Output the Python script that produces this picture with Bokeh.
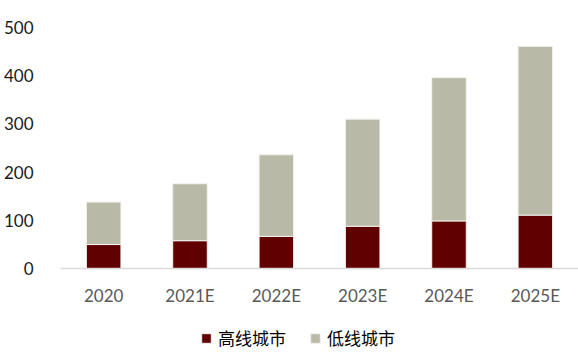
from bokeh.plotting import figure
from bokeh.models import FactorRange, Range1d, Legend, LegendItem, FixedTicker, ColumnDataSource
from bokeh.embed import file_html
from bokeh.resources import INLINE

categories = ["2020", "2021E", "2022E", "2023E", "2024E", "2025E"]
high_tier = [50, 58, 67, 88, 99, 111]
low_tier = [88, 118, 169, 222, 297, 350]
series_names = ["高线城市", "低线城市"]
colors = ["#600000", "#B9B9A7"]
y_ticks = [0, 100, 200, 300, 400, 500]

source = ColumnDataSource(dict(cat=categories, high=high_tier, low=low_tier))

# frame reaches down to the figure bottom; the x axis is pinned at y = 0
p = figure(width=578, height=354, x_range=FactorRange(*categories),
           y_range=Range1d(-178, 500), output_backend="svg", toolbar_location=None,
           min_border_left=60, min_border_right=0, min_border_top=27, min_border_bottom=0)

rs = p.vbar_stack(["high", "low"], x="cat", width=0.4, source=source,
                  color=colors, line_color="#F2F2EE", line_width=1)

p.xgrid.visible = False
p.ygrid.visible = False
p.outline_line_color = None
p.background_fill_color = "white"
p.border_fill_color = "white"

p.yaxis.ticker = FixedTicker(ticks=y_ticks)
p.yaxis.axis_line_color = None
p.yaxis.major_tick_line_color = None
p.yaxis.minor_tick_line_color = None
p.yaxis.major_label_standoff = 21
p.yaxis.major_label_text_font = "Lato"
p.yaxis.major_label_text_font_size = "17px"
p.yaxis.major_label_text_color = "#1A1A1A"

p.xaxis.fixed_location = 0
p.xaxis.axis_line_color = "#D9D9D9"
p.xaxis.axis_line_width = 1.5
p.xaxis.major_tick_line_color = None
p.xaxis.minor_tick_line_color = None
p.xaxis.major_label_standoff = 10
p.xaxis.major_label_text_font = "Lato"
p.xaxis.major_label_text_font_size = "17px"
p.xaxis.major_label_text_color = "#595959"

legend = Legend(items=[LegendItem(label=series_names[i], renderers=[rs[i]]) for i in range(2)],
                orientation="horizontal", location=(140, 4),
                glyph_width=12, glyph_height=12, label_standoff=6, spacing=23,
                label_text_font="Noto Sans CJK SC", label_text_font_size="17px",
                label_text_color="#000000", border_line_color=None,
                background_fill_alpha=0, padding=0, margin=0)
p.add_layout(legend, "center")

open("out.html", "w").write(file_html(p, INLINE))
